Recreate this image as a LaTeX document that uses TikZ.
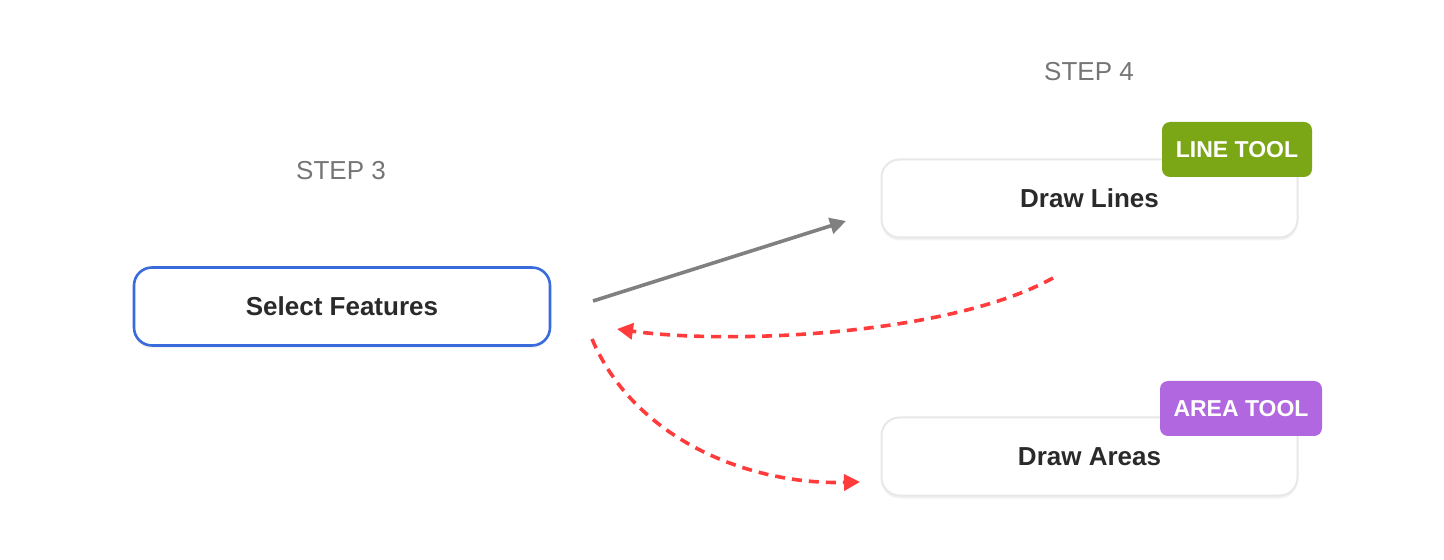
\documentclass[tikz,border=0pt]{standalone}
\usepackage{fontspec}
\setmainfont{Liberation Sans}
\usetikzlibrary{arrows.meta,shadows}
\definecolor{stepgray}{HTML}{757575}
\definecolor{txtdark}{HTML}{2A2A2A}
\definecolor{selblue}{HTML}{3A6BDC}
\definecolor{boxline}{HTML}{E8E8E8}
\definecolor{linegreen}{HTML}{7BA615}
\definecolor{areapurple}{HTML}{B067E0}
\definecolor{arrgray}{HTML}{808080}
\definecolor{arrred}{HTML}{FF3B3B}
\tikzset{
  steplabel/.style={text=stepgray, font=\fontsize{13pt}{15pt}\selectfont},
  taskbox/.style={draw=boxline, line width=1pt, fill=white, rounded corners=9pt,
    minimum width=208pt, minimum height=39pt, text=txtdark,
    font=\fontsize{13pt}{15pt}\selectfont\bfseries,
    drop shadow={opacity=0.10, shadow xshift=0pt, shadow yshift=-1.5pt}},
  tooltag/.style={rounded corners=4pt, minimum height=27.5pt, text=white,
    font=\fontsize{11.5pt}{13pt}\selectfont\bfseries},
  flow/.style={line width=1.8pt, -{Triangle[length=8pt,width=8pt]}},
  back/.style={flow, draw=arrred, dash pattern=on 5pt off 3.5pt}
}
\begin{document}
\begin{tikzpicture}[x=0.5pt, y=-0.5pt]
            \useasboundingbox (0,0) rectangle (1444,560);
            \node[steplabel] (S3) at (341, 171) {STEP 3};
            \node[steplabel] (S4) at (1089, 72) {STEP 4};
            \node[taskbox, draw=selblue, line width=1.3pt] (SF) at (342, 306.5) {Select Features};
            \node[taskbox] (DL) at (1089.5, 198.5) {Draw Lines};
            \node[taskbox] (DA) at (1089.5, 456.5) {Draw Areas};
            \node[tooltag, fill=linegreen, minimum width=75pt] (LT) at (1237, 149.5) {LINE TOOL};
            \node[tooltag, fill=areapurple, minimum width=81pt] (AT) at (1241, 408.5) {AREA TOOL};
            \coordinate (g1) at (593, 301);
            \coordinate (g2) at (846, 221);
            \coordinate (r1) at (1053, 278);
            \coordinate (r2) at (617, 329);
            \coordinate (r3) at (592, 339);
            \coordinate (r4) at (860, 482);
            \draw[flow, draw=arrgray] (g1) -- (g2);
            \draw[back] (r1) .. controls (950, 335) and (730, 345) .. (r2);
            \draw[back] (r3) .. controls (635, 440) and (750, 485) .. (r4);
        \end{tikzpicture}
\end{document}
